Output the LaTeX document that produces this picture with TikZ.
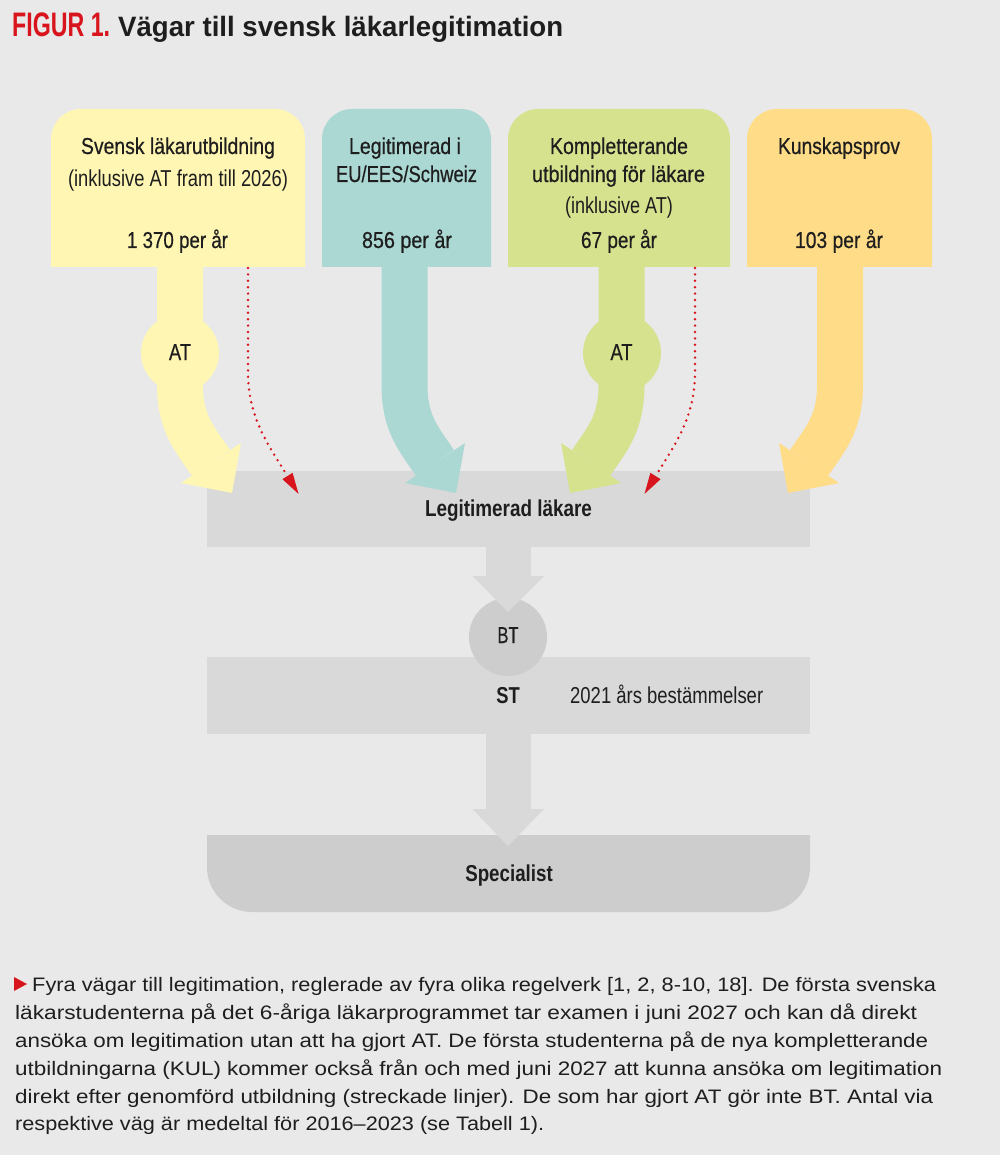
\documentclass[tikz,border=0pt]{standalone}
\usepackage{fontspec}
\usepackage{graphicx}
\setmainfont{Liberation Sans}
\newfontfamily\medfont{Liberation Sans}[FakeBold=0.6]
\definecolor{cBg}{HTML}{E9E9E9}
\definecolor{cYel}{HTML}{FFF6B4}
\definecolor{cTeal}{HTML}{ACD8D3}
\definecolor{cGreen}{HTML}{D6E28E}
\definecolor{cOrange}{HTML}{FFDC87}
\definecolor{cGray}{HTML}{D9D9D9}
\definecolor{cGrayD}{HTML}{CDCDCD}
\definecolor{cRed}{HTML}{D8141C}
\definecolor{cInk}{HTML}{1E1E1E}
\newsavebox\fitbox
\newlength\fitlen
\newcommand\fitto[2]{\sbox\fitbox{#2}\setlength\fitlen{\wd\fitbox}\pgfmathsetmacro\fitf{#1/\fitlen}\scalebox{\fitf}[1]{\usebox\fitbox}}
\newcommand\fmain{\fontsize{23}{27}\selectfont}
\newcommand\fcap{\fontsize{19.5}{24}\selectfont}
\newcommand\topboxshape[3]{\fill[#1] (#2,267) -- (#2,139) arc[start angle=180,end angle=270,radius=30] -- ({#3-30},109) arc[start angle=270,end angle=360,radius=30] -- (#3,267) -- cycle;}
\begin{document}
\begin{tikzpicture}[x=1pt,y=-1pt,
  txt/.style={inner sep=0pt, anchor=base, text=cInk},
  med/.style={txt, font=\medfont\fmain},
  light/.style={txt, font=\fmain},
  bold/.style={txt, font=\bfseries\fmain},
  captxt/.style={inner sep=0pt, anchor=base west, text=cInk, font=\fcap},
  dots/.style={cRed, line width=2.7pt, line cap=round, dash pattern=on 0pt off 6.4pt}]
\path[use as bounding box, fill=cBg] (0,0) rectangle (1000,1155);

% lower stack
\fill[cGray] (207,471) rectangle (810,547);
\fill[cGray] (207,657) rectangle (810,734);
\fill[cGrayD] (508,637) circle[radius=39];
\fill[cGray] (486,545) rectangle (531,577);
\fill[cGray] (472.5,576) -- (544,576) -- (508,612) -- cycle;
\fill[cGrayD] (207,835) -- (810,835) -- (810,867) arc[start angle=0,end angle=90,radius=45] -- (252,912) arc[start angle=90,end angle=180,radius=45] -- cycle;
\fill[cGray] (486,732) rectangle (531,810);
\fill[cGray] (472.5,809) -- (544,809) -- (508,846) -- cycle;

% top boxes
\topboxshape{cYel}{51}{305}
\topboxshape{cTeal}{322}{491}
\topboxshape{cGreen}{508}{730}
\topboxshape{cOrange}{747}{932}

% coordinates for connectors
\coordinate (ys) at (180,262);   \coordinate (yc) at (180,385);   \coordinate (ye) at (211,463);
\coordinate (ts) at (404.5,262); \coordinate (tc) at (404.5,385); \coordinate (te) at (435,463);
\coordinate (gs) at (621.5,262); \coordinate (gc) at (621.5,385); \coordinate (ge) at (591,463);
\coordinate (os) at (840,262);   \coordinate (oc) at (840,385);   \coordinate (oe) at (809,463);
\coordinate (r1s) at (248,268);  \coordinate (r1c) at (248,372);  \coordinate (r1e) at (287.5,476);
\coordinate (r2s) at (695,268);  \coordinate (r2c) at (695,372);  \coordinate (r2e) at (655.5,476);

% right-curving broad arrows
\draw[cYel, line width=46pt] (ys) -- (yc) .. controls +(0,38) and +(-17,-25) .. (ye);
\fill[cYel, shift={(ye)}] (-30,20) -- (30,-20) -- (21,30) -- cycle;
\draw[cTeal, line width=46pt] (ts) -- (tc) .. controls +(0,38) and +(-17,-25) .. (te);
\fill[cTeal, shift={(te)}] (-30,20) -- (30,-20) -- (21,30) -- cycle;
% left-curving broad arrows
\draw[cGreen, line width=46pt] (gs) -- (gc) .. controls +(0,38) and +(17,-25) .. (ge);
\fill[cGreen, shift={(ge)}] (30,20) -- (-30,-20) -- (-21,30) -- cycle;
\draw[cOrange, line width=46pt] (os) -- (oc) .. controls +(0,38) and +(17,-25) .. (oe);
\fill[cOrange, shift={(oe)}] (30,20) -- (-30,-20) -- (-21,30) -- cycle;

% AT circles
\fill[cYel] (180,353) circle[radius=39];
\fill[cGreen] (622,353) circle[radius=39];

% red dotted connectors
\draw[dots] (r1s) -- (r1c) .. controls +(0,45) and +(-20,-32) .. (r1e);
\fill[cRed, shift={(r1e)}] (-5.1,3.15) -- (5.1,-3.15) -- (11,17.9) -- cycle;
\draw[dots] (r2s) -- (r2c) .. controls +(0,45) and +(20,-32) .. (r2e);
\fill[cRed, shift={(r2e)}] (5.1,3.15) -- (-5.1,-3.15) -- (-11,17.9) -- cycle;

% title
\node[inner sep=0pt, anchor=base west, text=cRed, font=\bfseries\fontsize{34}{36}\selectfont] (fig) at (12,37) {\fitto{98}{FIGUR 1.}};
\node[inner sep=0pt, anchor=base west, text=cInk, font=\bfseries\fontsize{28}{32}\selectfont] (title) at (118,37) {\fitto{445}{Vägar till svensk läkarlegitimation}};

% box 1
\node[med] (b1a) at (178,154) {\fitto{194}{Svensk läkarutbildning}};
\node[light] (b1b) at (178,187) {\fitto{220}{(inklusive AT fram till 2026)}};
\node[med] (b1c) at (177.5,248) {\fitto{101}{1 370 per år}};
% box 2
\node[med] (b2a) at (405,154) {\fitto{112}{Legitimerad i}};
\node[med] (b2b) at (406.5,182) {\fitto{141}{EU/EES/Schweiz}};
\node[med] (b2c) at (407,248) {\fitto{90}{856 per år}};
% box 3
\node[med] (b3a) at (619,154) {\fitto{138}{Kompletterande}};
\node[med] (b3b) at (618.5,182) {\fitto{173}{utbildning för läkare}};
\node[light] (b3c) at (619,214) {\fitto{108}{(inklusive AT)}};
\node[med] (b3d) at (619,248) {\fitto{76}{67 per år}};
% box 4
\node[med] (b4a) at (839,154) {\fitto{122}{Kunskapsprov}};
\node[med] (b4b) at (839,248) {\fitto{88}{103 per år}};

% AT labels
\node[med] (at1) at (180,360) {\fitto{22}{AT}};
\node[med] (at2) at (621.5,360) {\fitto{22}{AT}};

% lower labels
\node[bold] (legit) at (508.5,516) {\fitto{167}{Legitimerad läkare}};
\node[med] (bt) at (508,643) {\fitto{21}{BT}};
\node[bold] (st) at (508,703) {\fitto{23.5}{ST}};
\node[txt, anchor=base west, font=\fmain] (regl) at (570,703) {\fitto{193}{2021 års bestämmelser}};
\node[bold] (spec) at (509,881) {\fitto{87.5}{Specialist}};

% caption
\fill[cRed] (14,977) -- (27,984) -- (14,991) -- cycle;
\node[captxt] (cap1) at (32,991) {\fitto{904}{Fyra vägar till legitimation, reglerade av fyra olika regelverk [1, 2, 8-10, 18]. De första svenska}};
\node[captxt] (cap2) at (15,1019) {\fitto{902}{läkarstudenterna på det 6-åriga läkarprogrammet tar examen i juni 2027 och kan då direkt}};
\node[captxt] (cap3) at (15,1047) {\fitto{913}{ansöka om legitimation utan att ha gjort AT. De första studenterna på de nya kompletterande}};
\node[captxt] (cap4) at (15,1075) {\fitto{927}{utbildningarna (KUL) kommer också från och med juni 2027 att kunna ansöka om legitimation}};
\node[captxt] (cap5) at (15,1103) {\fitto{918}{direkt efter genomförd utbildning (streckade linjer). De som har gjort AT gör inte BT. Antal via}};
\node[captxt] (cap6) at (15,1130) {\fitto{529}{respektive väg är medeltal för 2016–2023 (se Tabell 1).}};
\end{tikzpicture}
\end{document}
